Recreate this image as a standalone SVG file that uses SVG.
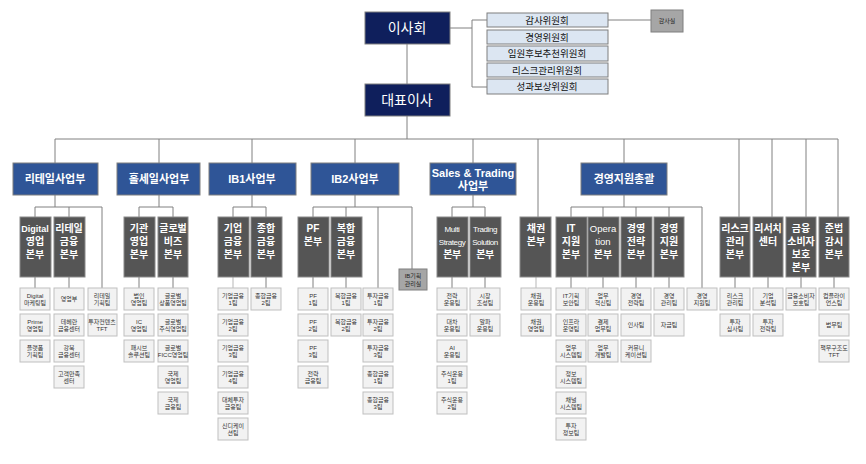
<svg xmlns="http://www.w3.org/2000/svg" width="866" height="464" viewBox="0 0 866 464">
<style>
.top{fill:#0f1f5c;stroke:#7f7f7f;stroke-width:1}
.tt{fill:#fff;font-family:"Liberation Sans","Noto Sans CJK KR",sans-serif;font-size:14px;text-anchor:middle}
.com{fill:#dce6f2;stroke:#7f7f7f;stroke-width:1}
.ct{fill:#111;font-family:"Liberation Sans","Noto Sans CJK KR",sans-serif;font-size:9.5px;text-anchor:middle}
.l1{fill:#2f5597;stroke:#7f7f7f;stroke-width:1}
.l1t{fill:#fff;font-family:"Liberation Sans","Noto Sans CJK KR",sans-serif;font-size:11px;font-weight:bold;text-anchor:middle}
.l2{fill:#555;stroke:#8a8a8a;stroke-width:1}
.l2t{fill:#fff;font-family:"Liberation Sans","Noto Sans CJK KR",sans-serif;font-size:10px;font-weight:bold;text-anchor:middle}
.l2e{fill:#fff;font-family:"Liberation Sans","Noto Sans CJK KR",sans-serif;font-size:8px;letter-spacing:-0.4px;text-anchor:middle}
.lf{fill:#f2f2f2;stroke:#bfbfbf;stroke-width:1}
.lt{fill:#333;font-family:"Liberation Sans","Noto Sans CJK KR",sans-serif;font-size:6px;text-anchor:middle}
.gr{fill:#a6a6a6;stroke:#7f7f7f;stroke-width:1}
.gt{fill:#222;font-family:"Liberation Sans","Noto Sans CJK KR",sans-serif;font-size:6px;text-anchor:middle}
.ln{fill:none;stroke:#808080;stroke-width:1}
.lw{fill:none;stroke:#d0d0d0;stroke-width:1.5}
</style>
<rect width="866" height="464" fill="#fff"/>
<g id="connectors" class="ln">
<path d="M407,44V84M450,28H472M472,20V87M472,20H487M472,87H487M608,20H651"/>
<path d="M407,116V139M55,139H838M55,139V163M159,139V163M252,139V163M355,139V163M473,139V163M538,139V217M624,139V163M739,139V217M772,139V217M806,139V217M838,139V217"/>
<path d="M55,195V207M35,207H102M35,207V217M69,207V217M102,207V288"/>
<path d="M159,195V207M139,207H173M139,207V217M173,207V217"/>
<path d="M252,195V207M233,207H266M233,207V217M266,207V217"/>
<path d="M355,195V207M313,207H412M313,207V217M346,207V217M378,207V288M412,207V269"/>
<path d="M473,195V207M452,207H485M452,207V217M485,207V217"/>
<path d="M624,195V207M571,207H702M571,207V217M603,207V217M636,207V217M669,207V217M702,207V288"/>
<path d="M35,277V288M69,277V288M139,277V288M173,277V288M266,277V288M313,277V288M346,277V288M452,277V288M485,277V288M571,277V288M603,277V288M636,277V288M669,277V288M735,277V288M768,277V288M801,277V288M834,277V288"/>
<path class="lw" d="M233,277V288M536,277V288"/>
</g>
<g id="board"><rect class="top" x="365" y="12" width="85" height="32"/><text class="tt" x="407" y="33">이사회</text></g>
<g id="ceo"><rect class="top" x="365" y="84" width="85" height="32"/><text class="tt" x="407" y="105">대표이사</text></g>
<g id="committees">
<rect class="com" x="487" y="13" width="121" height="14"/><text class="ct" x="547" y="24">감사위원회</text>
<rect class="com" x="487" y="30" width="121" height="14"/><text class="ct" x="547" y="41">경영위원회</text>
<rect class="com" x="487" y="46" width="121" height="15"/><text class="ct" x="547" y="57">임원후보추천위원회</text>
<rect class="com" x="487" y="63" width="121" height="14"/><text class="ct" x="547" y="74">리스크관리위원회</text>
<rect class="com" x="487" y="79" width="121" height="15"/><text class="ct" x="547" y="90">성과보상위원회</text>
</g>
<g id="audit"><rect class="gr" x="651" y="10" width="32" height="22"/><text class="gt" x="667" y="23">감사실</text></g>
<g id="divisions">
<rect class="l1" x="13" y="163" width="85" height="32"/><text class="l1t" x="55" y="183">리테일사업부</text>
<rect class="l1" x="117" y="163" width="83" height="32"/><text class="l1t" x="159" y="183">홀세일사업부</text>
<rect class="l1" x="209" y="163" width="87" height="32"/><text class="l1t" x="252" y="183">IB1사업부</text>
<rect class="l1" x="311" y="163" width="88" height="32"/><text class="l1t" x="355" y="183">IB2사업부</text>
<rect class="l1" x="430" y="163" width="86" height="32"/><text class="l1t" x="473" y="177">Sales &amp; Trading</text><text class="l1t" x="473" y="190">사업부</text>
<rect class="l1" x="581" y="163" width="86" height="32"/><text class="l1t" x="624" y="183">경영지원총괄</text>
</g>
<g id="headquarters">
<rect class="l2" x="20" y="217" width="31" height="60"/><text class="l2t" x="35" y="232"><tspan x="35" style="font-size:9px">Digital</tspan><tspan x="35" dy="13">영업</tspan><tspan x="35" dy="13">본부</tspan></text>
<rect class="l2" x="54" y="217" width="31" height="60"/><text class="l2t" x="69" y="232"><tspan x="69">리테일</tspan><tspan x="69" dy="13">금융</tspan><tspan x="69" dy="13">본부</tspan></text>
<rect class="l2" x="124" y="217" width="31" height="60"/><text class="l2t" x="139" y="232"><tspan x="139">기관</tspan><tspan x="139" dy="13">영업</tspan><tspan x="139" dy="13">본부</tspan></text>
<rect class="l2" x="158" y="217" width="30" height="60"/><text class="l2t" x="173" y="232"><tspan x="173">글로벌</tspan><tspan x="173" dy="13">비즈</tspan><tspan x="173" dy="13">본부</tspan></text>
<rect class="l2" x="218" y="217" width="31" height="60"/><text class="l2t" x="233" y="232"><tspan x="233">기업</tspan><tspan x="233" dy="13">금융</tspan><tspan x="233" dy="13">본부</tspan></text>
<rect class="l2" x="251" y="217" width="31" height="60"/><text class="l2t" x="266" y="232"><tspan x="266">종합</tspan><tspan x="266" dy="13">금융</tspan><tspan x="266" dy="13">본부</tspan></text>
<rect class="l2" x="298" y="217" width="31" height="60"/><text class="l2t" x="313" y="232"><tspan x="313">PF</tspan><tspan x="313" dy="13">본부</tspan></text>
<rect class="l2" x="331" y="217" width="31" height="60"/><text class="l2t" x="346" y="232"><tspan x="346">복합</tspan><tspan x="346" dy="13">금융</tspan><tspan x="346" dy="13">본부</tspan></text>
<rect class="l2" x="437" y="217" width="31" height="60"/><text class="l2e" x="452" y="232"><tspan x="452">Multi</tspan><tspan x="452" dy="13">Strategy</tspan><tspan x="452" dy="13" class="l2t">본부</tspan></text>
<rect class="l2" x="470" y="217" width="31" height="60"/><text class="l2e" x="485" y="232"><tspan x="485">Trading</tspan><tspan x="485" dy="13">Solution</tspan><tspan x="485" dy="13" class="l2t">본부</tspan></text>
<rect class="l2" x="520" y="217" width="31" height="60"/><text class="l2t" x="536" y="232"><tspan x="536">채권</tspan><tspan x="536" dy="13">본부</tspan></text>
<rect class="l2" x="556" y="217" width="31" height="60"/><text class="l2t" x="571" y="232"><tspan x="571">IT</tspan><tspan x="571" dy="13">지원</tspan><tspan x="571" dy="13">본부</tspan></text>
<rect class="l2" x="588" y="217" width="31" height="60"/><text class="l2t" x="603" y="232"><tspan x="603" style="font-weight:normal;font-size:9.5px">Opera</tspan><tspan x="603" dy="13" style="font-weight:normal;font-size:9.5px">tion</tspan><tspan x="603" dy="13">본부</tspan></text>
<rect class="l2" x="621" y="217" width="31" height="60"/><text class="l2t" x="636" y="232"><tspan x="636">경영</tspan><tspan x="636" dy="13">전략</tspan><tspan x="636" dy="13">본부</tspan></text>
<rect class="l2" x="654" y="217" width="30" height="60"/><text class="l2t" x="669" y="232"><tspan x="669">경영</tspan><tspan x="669" dy="13">지원</tspan><tspan x="669" dy="13">본부</tspan></text>
<rect class="l2" x="720" y="217" width="30" height="60"/><text class="l2t" x="735" y="232"><tspan x="735">리스크</tspan><tspan x="735" dy="13">관리</tspan><tspan x="735" dy="13">본부</tspan></text>
<rect class="l2" x="753" y="217" width="30" height="60"/><text class="l2t" x="768" y="232"><tspan x="768">리서치</tspan><tspan x="768" dy="13">센터</tspan></text>
<rect class="l2" x="786" y="217" width="30" height="60"/><text class="l2t" x="801" y="232"><tspan x="801">금융</tspan><tspan x="801" dy="13">소비자</tspan><tspan x="801" dy="13">보호</tspan><tspan x="801" dy="13">본부</tspan></text>
<rect class="l2" x="819" y="217" width="30" height="60"/><text class="l2t" x="834" y="232"><tspan x="834">준법</tspan><tspan x="834" dy="13">감시</tspan><tspan x="834" dy="13">본부</tspan></text>
</g>
<g id="ibplan"><rect class="gr" x="399" y="269" width="28" height="21"/><text class="gt" x="413" y="278"><tspan x="413">IB기획</tspan><tspan x="413" dy="7.5">관리실</tspan></text></g>
<g id="teams">
<!-- col 35 -->
<rect class="lf" x="20" y="288" width="30" height="22"/><text class="lt" x="35" y="297.5"><tspan x="35">Digital</tspan><tspan x="35" dy="7.5">마케팅팀</tspan></text>
<rect class="lf" x="20" y="314" width="30" height="22"/><text class="lt" x="35" y="323.5"><tspan x="35">Prime</tspan><tspan x="35" dy="7.5">영업팀</tspan></text>
<rect class="lf" x="20" y="340" width="30" height="22"/><text class="lt" x="35" y="349.5"><tspan x="35">플랫폼</tspan><tspan x="35" dy="7.5">기획팀</tspan></text>
<!-- col 69 -->
<rect class="lf" x="54" y="288" width="30" height="22"/><text class="lt" x="69" y="301">영업부</text>
<rect class="lf" x="54" y="314" width="30" height="22"/><text class="lt" x="69" y="323.5"><tspan x="69">테헤란</tspan><tspan x="69" dy="7.5">금융센터</tspan></text>
<rect class="lf" x="54" y="340" width="30" height="22"/><text class="lt" x="69" y="349.5"><tspan x="69">강북</tspan><tspan x="69" dy="7.5">금융센터</tspan></text>
<rect class="lf" x="54" y="366" width="30" height="22"/><text class="lt" x="69" y="375.5"><tspan x="69">고객만족</tspan><tspan x="69" dy="7.5">센터</tspan></text>
<!-- col 102 -->
<rect class="lf" x="88" y="288" width="29" height="22"/><text class="lt" x="102" y="297.5"><tspan x="102">리테일</tspan><tspan x="102" dy="7.5">기획팀</tspan></text>
<rect class="lf" x="88" y="314" width="29" height="22"/><text class="lt" x="102" y="323.5"><tspan x="102">투자컨텐츠</tspan><tspan x="102" dy="7.5">TFT</tspan></text>
<!-- col 139 -->
<rect class="lf" x="124" y="288" width="30" height="22"/><text class="lt" x="139" y="297.5"><tspan x="139">법인</tspan><tspan x="139" dy="7.5">영업팀</tspan></text>
<rect class="lf" x="124" y="314" width="30" height="22"/><text class="lt" x="139" y="323.5"><tspan x="139">IC</tspan><tspan x="139" dy="7.5">영업팀</tspan></text>
<rect class="lf" x="124" y="340" width="30" height="22"/><text class="lt" x="139" y="349.5"><tspan x="139">패시브</tspan><tspan x="139" dy="7.5">솔루션팀</tspan></text>
<!-- col 173 -->
<rect class="lf" x="158" y="288" width="30" height="22"/><text class="lt" x="173" y="297.5"><tspan x="173">글로벌</tspan><tspan x="173" dy="7.5">상품영업팀</tspan></text>
<rect class="lf" x="158" y="314" width="30" height="22"/><text class="lt" x="173" y="323.5"><tspan x="173">글로벌</tspan><tspan x="173" dy="7.5">주식영업팀</tspan></text>
<rect class="lf" x="158" y="340" width="30" height="22"/><text class="lt" x="173" y="349.5"><tspan x="173">글로벌</tspan><tspan x="173" dy="7.5">FICC영업팀</tspan></text>
<rect class="lf" x="158" y="366" width="30" height="22"/><text class="lt" x="173" y="375.5"><tspan x="173">국제</tspan><tspan x="173" dy="7.5">영업팀</tspan></text>
<rect class="lf" x="158" y="392" width="30" height="22"/><text class="lt" x="173" y="401.5"><tspan x="173">국제</tspan><tspan x="173" dy="7.5">금융팀</tspan></text>
<!-- col 233 -->
<rect class="lf" x="218" y="288" width="30" height="22"/><text class="lt" x="233" y="297.5"><tspan x="233">기업금융</tspan><tspan x="233" dy="7.5">1팀</tspan></text>
<rect class="lf" x="218" y="314" width="30" height="22"/><text class="lt" x="233" y="323.5"><tspan x="233">기업금융</tspan><tspan x="233" dy="7.5">2팀</tspan></text>
<rect class="lf" x="218" y="340" width="30" height="22"/><text class="lt" x="233" y="349.5"><tspan x="233">기업금융</tspan><tspan x="233" dy="7.5">3팀</tspan></text>
<rect class="lf" x="218" y="366" width="30" height="22"/><text class="lt" x="233" y="375.5"><tspan x="233">기업금융</tspan><tspan x="233" dy="7.5">4팀</tspan></text>
<rect class="lf" x="218" y="392" width="30" height="22"/><text class="lt" x="233" y="401.5"><tspan x="233">대체투자</tspan><tspan x="233" dy="7.5">금융팀</tspan></text>
<rect class="lf" x="218" y="418" width="30" height="22"/><text class="lt" x="233" y="427.5"><tspan x="233">신디케이</tspan><tspan x="233" dy="7.5">션팀</tspan></text>
<!-- col 266 -->
<rect class="lf" x="251" y="288" width="30" height="22"/><text class="lt" x="266" y="297.5"><tspan x="266">종합금융</tspan><tspan x="266" dy="7.5">2팀</tspan></text>
<!-- col 313 -->
<rect class="lf" x="298" y="288" width="30" height="22"/><text class="lt" x="313" y="297.5"><tspan x="313">PF</tspan><tspan x="313" dy="7.5">1팀</tspan></text>
<rect class="lf" x="298" y="314" width="30" height="22"/><text class="lt" x="313" y="323.5"><tspan x="313">PF</tspan><tspan x="313" dy="7.5">2팀</tspan></text>
<rect class="lf" x="298" y="340" width="30" height="22"/><text class="lt" x="313" y="349.5"><tspan x="313">PF</tspan><tspan x="313" dy="7.5">3팀</tspan></text>
<rect class="lf" x="298" y="366" width="30" height="22"/><text class="lt" x="313" y="375.5"><tspan x="313">전략</tspan><tspan x="313" dy="7.5">금융팀</tspan></text>
<!-- col 346 -->
<rect class="lf" x="331" y="288" width="30" height="22"/><text class="lt" x="346" y="297.5"><tspan x="346">복합금융</tspan><tspan x="346" dy="7.5">1팀</tspan></text>
<rect class="lf" x="331" y="314" width="30" height="22"/><text class="lt" x="346" y="323.5"><tspan x="346">복합금융</tspan><tspan x="346" dy="7.5">2팀</tspan></text>
<!-- col 378 -->
<rect class="lf" x="363" y="288" width="30" height="22"/><text class="lt" x="378" y="297.5"><tspan x="378">투자금융</tspan><tspan x="378" dy="7.5">1팀</tspan></text>
<rect class="lf" x="363" y="314" width="30" height="22"/><text class="lt" x="378" y="323.5"><tspan x="378">투자금융</tspan><tspan x="378" dy="7.5">2팀</tspan></text>
<rect class="lf" x="363" y="340" width="30" height="22"/><text class="lt" x="378" y="349.5"><tspan x="378">투자금융</tspan><tspan x="378" dy="7.5">3팀</tspan></text>
<rect class="lf" x="363" y="366" width="30" height="22"/><text class="lt" x="378" y="375.5"><tspan x="378">종합금융</tspan><tspan x="378" dy="7.5">1팀</tspan></text>
<rect class="lf" x="363" y="392" width="30" height="22"/><text class="lt" x="378" y="401.5"><tspan x="378">종합금융</tspan><tspan x="378" dy="7.5">3팀</tspan></text>
<!-- col 452 -->
<rect class="lf" x="437" y="288" width="30" height="22"/><text class="lt" x="452" y="297.5"><tspan x="452">전략</tspan><tspan x="452" dy="7.5">운용팀</tspan></text>
<rect class="lf" x="437" y="314" width="30" height="22"/><text class="lt" x="452" y="323.5"><tspan x="452">대차</tspan><tspan x="452" dy="7.5">운용팀</tspan></text>
<rect class="lf" x="437" y="340" width="30" height="22"/><text class="lt" x="452" y="349.5"><tspan x="452">AI</tspan><tspan x="452" dy="7.5">운용팀</tspan></text>
<rect class="lf" x="437" y="366" width="30" height="22"/><text class="lt" x="452" y="375.5"><tspan x="452">주식운용</tspan><tspan x="452" dy="7.5">1팀</tspan></text>
<rect class="lf" x="437" y="392" width="30" height="22"/><text class="lt" x="452" y="401.5"><tspan x="452">주식운용</tspan><tspan x="452" dy="7.5">2팀</tspan></text>
<!-- col 485 -->
<rect class="lf" x="470" y="288" width="30" height="22"/><text class="lt" x="485" y="297.5"><tspan x="485">시장</tspan><tspan x="485" dy="7.5">조성팀</tspan></text>
<rect class="lf" x="470" y="314" width="30" height="22"/><text class="lt" x="485" y="323.5"><tspan x="485">알파</tspan><tspan x="485" dy="7.5">운용팀</tspan></text>
<!-- col 536 -->
<rect class="lf" x="521" y="288" width="30" height="22"/><text class="lt" x="536" y="297.5"><tspan x="536">채권</tspan><tspan x="536" dy="7.5">운용팀</tspan></text>
<rect class="lf" x="521" y="314" width="30" height="22"/><text class="lt" x="536" y="323.5"><tspan x="536">채권</tspan><tspan x="536" dy="7.5">영업팀</tspan></text>
<!-- col 571 -->
<rect class="lf" x="556" y="288" width="30" height="22"/><text class="lt" x="571" y="297.5"><tspan x="571">IT기획</tspan><tspan x="571" dy="7.5">보안팀</tspan></text>
<rect class="lf" x="556" y="314" width="30" height="22"/><text class="lt" x="571" y="323.5"><tspan x="571">인프라</tspan><tspan x="571" dy="7.5">운영팀</tspan></text>
<rect class="lf" x="556" y="340" width="30" height="22"/><text class="lt" x="571" y="349.5"><tspan x="571">업무</tspan><tspan x="571" dy="7.5">시스템팀</tspan></text>
<rect class="lf" x="556" y="366" width="30" height="22"/><text class="lt" x="571" y="375.5"><tspan x="571">정보</tspan><tspan x="571" dy="7.5">시스템팀</tspan></text>
<rect class="lf" x="556" y="392" width="30" height="22"/><text class="lt" x="571" y="401.5"><tspan x="571">채널</tspan><tspan x="571" dy="7.5">시스템팀</tspan></text>
<rect class="lf" x="556" y="418" width="30" height="22"/><text class="lt" x="571" y="427.5"><tspan x="571">투자</tspan><tspan x="571" dy="7.5">정보팀</tspan></text>
<!-- col 603 -->
<rect class="lf" x="588" y="288" width="30" height="22"/><text class="lt" x="603" y="297.5"><tspan x="603">업무</tspan><tspan x="603" dy="7.5">혁신팀</tspan></text>
<rect class="lf" x="588" y="314" width="30" height="22"/><text class="lt" x="603" y="323.5"><tspan x="603">결제</tspan><tspan x="603" dy="7.5">업무팀</tspan></text>
<rect class="lf" x="588" y="340" width="30" height="22"/><text class="lt" x="603" y="349.5"><tspan x="603">업무</tspan><tspan x="603" dy="7.5">개발팀</tspan></text>
<!-- col 636 -->
<rect class="lf" x="621" y="288" width="30" height="22"/><text class="lt" x="636" y="297.5"><tspan x="636">경영</tspan><tspan x="636" dy="7.5">전략팀</tspan></text>
<rect class="lf" x="621" y="314" width="30" height="22"/><text class="lt" x="636" y="327">인사팀</text>
<rect class="lf" x="621" y="340" width="30" height="22"/><text class="lt" x="636" y="349.5"><tspan x="636">커뮤니</tspan><tspan x="636" dy="7.5">케이션팀</tspan></text>
<!-- col 669 -->
<rect class="lf" x="654" y="288" width="30" height="22"/><text class="lt" x="669" y="297.5"><tspan x="669">경영</tspan><tspan x="669" dy="7.5">관리팀</tspan></text>
<rect class="lf" x="654" y="314" width="30" height="22"/><text class="lt" x="669" y="327">자금팀</text>
<!-- col 702 -->
<rect class="lf" x="687" y="288" width="30" height="22"/><text class="lt" x="702" y="297.5"><tspan x="702">경영</tspan><tspan x="702" dy="7.5">지원팀</tspan></text>
<!-- col 735 -->
<rect class="lf" x="720" y="288" width="30" height="22"/><text class="lt" x="735" y="297.5"><tspan x="735">리스크</tspan><tspan x="735" dy="7.5">관리팀</tspan></text>
<rect class="lf" x="720" y="314" width="30" height="22"/><text class="lt" x="735" y="323.5"><tspan x="735">투자</tspan><tspan x="735" dy="7.5">심사팀</tspan></text>
<!-- col 768 -->
<rect class="lf" x="753" y="288" width="30" height="22"/><text class="lt" x="768" y="297.5"><tspan x="768">기업</tspan><tspan x="768" dy="7.5">분석팀</tspan></text>
<rect class="lf" x="753" y="314" width="30" height="22"/><text class="lt" x="768" y="323.5"><tspan x="768">투자</tspan><tspan x="768" dy="7.5">전략팀</tspan></text>
<!-- col 801 -->
<rect class="lf" x="786" y="288" width="30" height="22"/><text class="lt" x="801" y="297.5"><tspan x="801">금융소비자</tspan><tspan x="801" dy="7.5">보호팀</tspan></text>
<!-- col 834 -->
<rect class="lf" x="819" y="288" width="30" height="22"/><text class="lt" x="834" y="297.5"><tspan x="834">컴플라이</tspan><tspan x="834" dy="7.5">언스팀</tspan></text>
<rect class="lf" x="819" y="314" width="30" height="22"/><text class="lt" x="834" y="327">법무팀</text>
<rect class="lf" x="819" y="340" width="30" height="22"/><text class="lt" x="834" y="349.5"><tspan x="834">책무구조도</tspan><tspan x="834" dy="7.5">TFT</tspan></text>
</g>
</svg>
